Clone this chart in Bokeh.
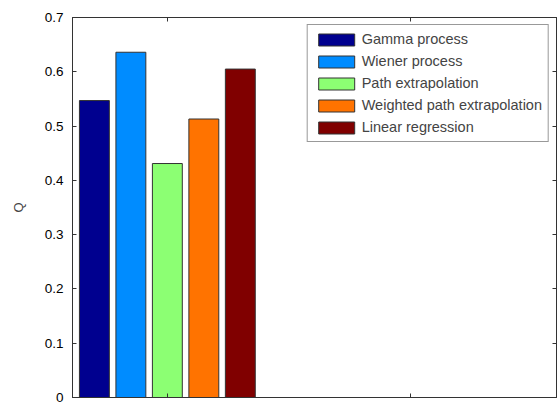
from bokeh.plotting import figure
from bokeh.models import LinearAxis, Range1d, Legend, LegendItem, FixedTicker, ColumnDataSource
from bokeh.embed import file_html
from bokeh.resources import INLINE

methods = ["Gamma process", "Wiener process", "Path extrapolation",
           "Weighted path extrapolation", "Linear regression"]
q_values = [0.547, 0.636, 0.431, 0.513, 0.605]
offsets = [-0.30, -0.15, 0.0, 0.15, 0.30]
colors = ["#00008F", "#008CFF", "#8CFF73", "#FF7300", "#800000"]
y_ticks = [0, 0.1, 0.2, 0.3, 0.4, 0.5, 0.6, 0.7]
x_ticks = [1, 2]

p = figure(width=558, height=412, output_backend="svg", toolbar_location=None,
           x_range=Range1d(0.61, 2.6), y_range=Range1d(0, 0.7),
           min_border_left=72, min_border_right=2, min_border_top=17, min_border_bottom=15,
           x_axis_location=None, y_axis_location=None)
p.grid.visible = False
p.outline_line_color = "#333333"
p.outline_line_width = 1
p.background_fill_color = "white"
p.border_fill_color = "white"

font = "Liberation Sans"

def style_axis(ax, ticks, labels=True):
    ax.major_tick_in = 4
    ax.major_tick_out = 0
    ax.minor_tick_in = 0
    ax.minor_tick_out = 0
    ax.axis_line_color = "#333333"
    ax.major_tick_line_color = "#333333"
    ax.major_label_text_font = font
    ax.major_label_text_font_size = "13.5px"
    ax.major_label_text_color = "black"
    if not labels:
        ax.major_label_overrides = {t: "" for t in ticks}

yl = LinearAxis(ticker=FixedTicker(ticks=y_ticks), axis_label="Q")
style_axis(yl, y_ticks)
yl.major_label_standoff = 9
yl.axis_label_text_font = font
yl.axis_label_text_font_size = "13px"
yl.axis_label_text_font_style = "normal"
yl.axis_label_standoff = 16
p.add_layout(yl, "left")

yr = LinearAxis(ticker=FixedTicker(ticks=y_ticks))
style_axis(yr, y_ticks, labels=False)
p.add_layout(yr, "right")

xb = LinearAxis(ticker=FixedTicker(ticks=x_ticks))
style_axis(xb, x_ticks, labels=False)
p.add_layout(xb, "below")

xt = LinearAxis(ticker=FixedTicker(ticks=x_ticks))
style_axis(xt, x_ticks, labels=False)
p.add_layout(xt, "above")

items = []
for name, v, off, c in zip(methods, q_values, offsets, colors):
    src = ColumnDataSource(dict(x=[1 + off], top=[v]))
    r = p.vbar(x="x", top="top", bottom=0, width=0.123, source=src,
               fill_color=c, line_color="#333333", line_width=1)
    items.append(LegendItem(label=name, renderers=[r]))

legend = Legend(items=items, location="top_right")
legend.margin = 7
legend.padding = 6
legend.spacing = 6
legend.glyph_width = 45
legend.glyph_height = 15
legend.label_height = 15
legend.label_standoff = 3
legend.label_text_font = font
legend.label_text_font_size = "14.5px"
legend.border_line_color = "#333333"
legend.border_line_width = 1
legend.background_fill_alpha = 1
p.add_layout(legend, "center")

open("out.html", "w").write(file_html(p, INLINE))
